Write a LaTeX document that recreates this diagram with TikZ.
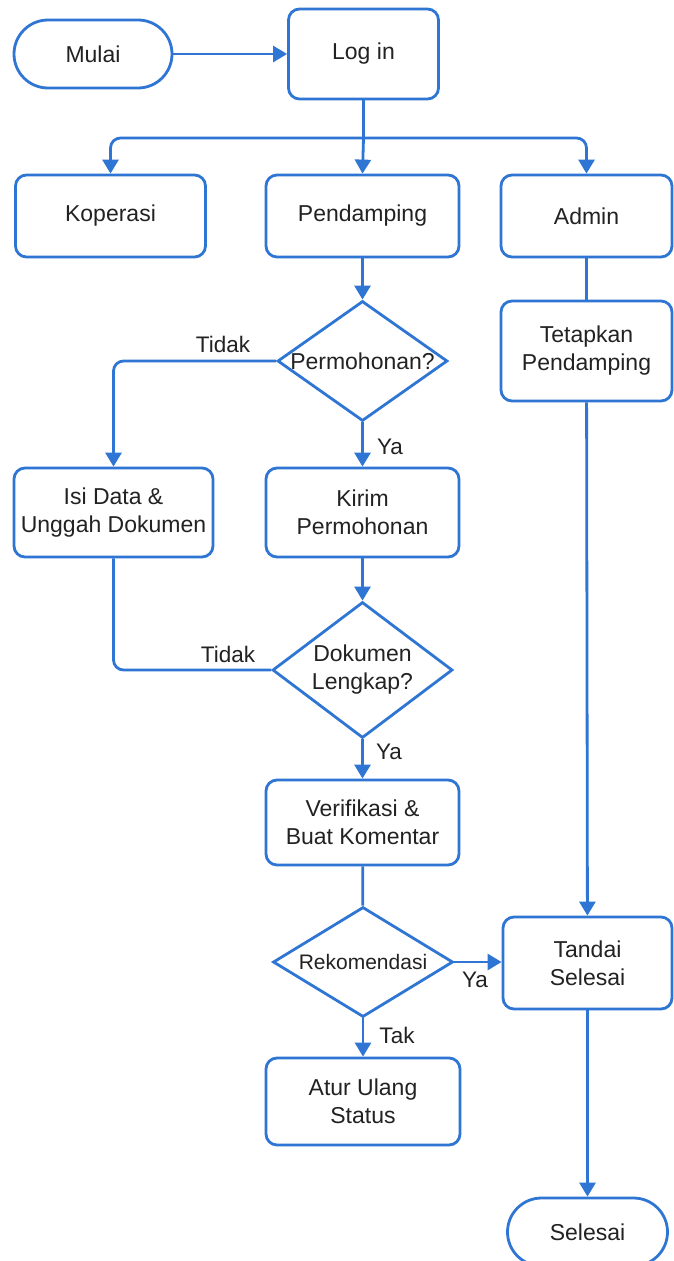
\documentclass[tikz,border=0pt]{standalone}
\usepackage{fontspec}
\setmainfont{Liberation Sans}
\usetikzlibrary{shapes.geometric,arrows.meta}
\definecolor{flowblue}{HTML}{2F76D4}
\definecolor{ink}{HTML}{222222}
\tikzset{
  base/.style={draw=flowblue, line width=2.8pt, text=ink, font=\fontsize{23}{28}\selectfont, align=center, inner sep=0pt},
  box/.style={base, rectangle, rounded corners=11pt},
  term/.style={base, rectangle, rounded corners=34pt, minimum height=68pt},
  dec/.style={base, diamond},
  arr/.style={draw=flowblue, line width=2.8pt, -{Triangle[width=16pt,length=14pt]}},
  ln/.style={draw=flowblue, line width=2.8pt},
  lbl/.style={text=ink, font=\fontsize{22.5}{26}\selectfont, inner sep=0pt}
}
\begin{document}
\begin{tikzpicture}[x=1pt,y=-1pt]
\useasboundingbox[fill=white] (0,0) rectangle (673,1261);

% start and login
\node[term, minimum width=158pt] (start) at (93,54) {Mulai};
\node[box, minimum width=150pt, minimum height=90pt] (login) at (363.5,54) {Log in};

% roles
\node[box, minimum width=190pt, minimum height=82pt] (kop) at (110.5,216) {Koperasi};
\node[box, minimum width=193pt, minimum height=82pt] (pend) at (362.5,216) {Pendamping};
\node[box, minimum width=171pt, minimum height=82pt] (adm) at (586.5,216) {Admin};

% pendamping branch
\node[dec, minimum width=170pt, minimum height=120pt] (perm) at (362.5,361) {\makebox[0pt]{Permohonan?}};
\node[box, minimum width=171pt, minimum height=100pt] (tet) at (586.5,351) {Tetapkan\\Pendamping};
\node[box, minimum width=199pt, minimum height=89pt] (isi) at (113.5,512.5) {Isi Data \&\\Unggah Dokumen};
\node[box, minimum width=193pt, minimum height=89pt] (kirim) at (362.5,512.5) {Kirim\\Permohonan};
\node[dec, minimum width=180pt, minimum height=136pt] (dok) at (362.5,670) {\makebox[0pt]{Dokumen}\\\makebox[0pt]{Lengkap?}};
\node[box, minimum width=193pt, minimum height=85pt] (ver) at (362.5,822.5) {Verifikasi \&\\Buat Komentar};
\node[dec, minimum width=180pt, minimum height=110pt, font=\fontsize{21}{24}\selectfont] (rek) at (363,962) {\makebox[0pt]{Rekomendasi}};
\node[box, minimum width=169pt, minimum height=92pt] (tan) at (587.5,963) {Tandai\\Selesai};
\node[box, minimum width=194pt, minimum height=87pt] (atur) at (363,1101.5) {Atur Ulang\\Status};
\node[term, minimum width=160pt] (sel) at (587.5,1232) {Selesai};

% fork below login
\coordinate (fork) at (363.5,138);

% connectors
\draw[arr] (start) -- (login);
\draw[ln] (login.south) -- (fork);
\draw[arr] (fork) -- (pend.north);
\draw[arr, rounded corners=10pt] (fork) -| (kop.north);
\draw[arr, rounded corners=10pt] (fork) -| (adm.north);
\draw[arr] (pend) -- (perm);
\draw[ln] (adm) -- (tet);
\draw[arr, rounded corners=10pt] (perm.west) -| (isi.north);
\draw[arr] (perm) -- (kirim);
\draw[arr] (kirim) -- (dok);
\draw[ln, rounded corners=10pt] (isi.south) |- (dok.west);
\draw[arr] (dok) -- (ver);
\draw[ln] (ver) -- (rek);
\draw[arr] (rek.east) -- (tan.west |- rek.east);
\draw[arr] (rek) -- (atur);
\draw[arr] (tet) -- (tan);
\draw[arr] (tan) -- (sel);

% branch labels
\node[lbl] (t1) at (223,344) {Tidak};
\node[lbl] (y1) at (390,447) {Ya};
\node[lbl] (t2) at (228,654) {Tidak};
\node[lbl] (y2) at (389,752) {Ya};
\node[lbl] (y3) at (475,980) {Ya};
\node[lbl] (k1) at (397,1035) {Tak};
\end{tikzpicture}
\end{document}
